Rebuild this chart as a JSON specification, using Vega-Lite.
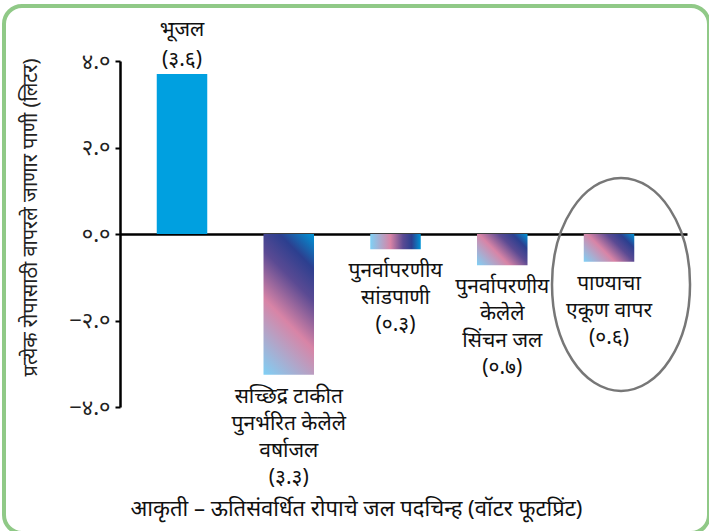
{
  "$schema": "https://vega.github.io/schema/vega-lite/v6.json",
  "width": 705,
  "height": 527,
  "autosize": {"type": "none"},
  "padding": {"left": 4, "top": 6, "right": 0, "bottom": 0},
  "background": "white",
  "config": {
    "font": "Noto Sans, Noto Sans Devanagari, Lohit Devanagari, sans-serif",
    "view": {"stroke": "#90c987", "strokeWidth": 4, "cornerRadius": 18}
  },
  "title": {
    "text": "आकृती – ऊतिसंवर्धित रोपाचे जल पदचिन्ह (वॉटर फूटप्रिंट)",
    "orient": "bottom",
    "anchor": "middle",
    "baseline": "middle",
    "offset": -24,
    "fontSize": 22,
    "fontWeight": "normal",
    "color": "#111"
  },
  "data": {
    "values": [
      {"source": "भूजल", "value": 3.7, "label": "भूजल\n(३.६)"},
      {"source": "सच्छिद्र टाकीत पुनर्भरित केलेले वर्षाजल", "value": -3.25, "label": "सच्छिद्र टाकीत\nपुनर्भरित केलेले\nवर्षाजल\n(३.३)"},
      {"source": "पुनर्वापरणीय सांडपाणी", "value": -0.35, "label": "पुनर्वापरणीय\nसांडपाणी\n(०.३)"},
      {"source": "पुनर्वापरणीय केलेले सिंचन जल", "value": -0.72, "label": "पुनर्वापरणीय\nकेलेले\nसिंचन जल\n(०.७)"},
      {"source": "पाण्याचा एकूण वापर", "value": -0.64, "label": "पाण्याचा\nएकूण वापर\n(०.६)"}
    ]
  },
  "encoding": {
    "x": {
      "field": "source",
      "type": "nominal",
      "sort": null,
      "scale": {"paddingInner": 0.396, "paddingOuter": 1, "align": 0.6827, "round": false},
      "axis": {
        "orient": "bottom",
        "offset": -299,
        "title": null,
        "labels": false,
        "ticks": false,
        "domainColor": "#000",
        "domainWidth": 2.5,
        "domainDash": [0, 116, 567, 3000]
      }
    },
    "y": {
      "field": "value",
      "type": "quantitative",
      "scale": {"domain": [-6.911, 5.273], "nice": false, "zero": false},
      "axis": {
        "orient": "left",
        "offset": -116,
        "values": [-4, -2, 0, 2, 4],
        "format": ".1f",
        "labelExpr": "replace(replace(replace(replace(datum.label,'0','०'),'0','०'),'2','२'),'4','४')",
        "grid": false,
        "domainColor": "#000",
        "domainWidth": 2.5,
        "domainDash": [0, 126, 346, 3000],
        "tickColor": "#000",
        "tickWidth": 2,
        "tickSize": 5,
        "labelFontSize": 22,
        "labelColor": "#222",
        "labelPadding": 5,
        "title": "प्रत्येक रोपासाठी वापरले जाणार पाणी (लिटर)",
        "titleFontSize": 20,
        "titleFontWeight": "normal",
        "titleColor": "#222",
        "titleAngle": -90,
        "titleX": -90,
        "titleY": 211,
        "titleAlign": "center",
        "titleBaseline": "middle"
      }
    }
  },
  "layer": [
    {
      "mark": {"type": "bar", "width": 50.5},
      "encoding": {
        "fill": {
          "condition": [
            {"test": "datum.source === 'भूजल'", "value": "#00a0e0"},
            {"test": "datum.source === 'पुनर्वापरणीय सांडपाणी'", "value": {"gradient": "linear", "x1": 0, "y1": 0.5, "x2": 1, "y2": 0.5, "stops": [{"offset": 0, "color": "#7fd0f5"}, {"offset": 0.4, "color": "#d884a6"}, {"offset": 0.65, "color": "#5a4a93"}, {"offset": 0.82, "color": "#2c3f8f"}, {"offset": 1, "color": "#0093d6"}]}},
            {"test": "datum.source === 'पुनर्वापरणीय केलेले सिंचन जल'", "value": {"gradient": "linear", "x1": 0, "y1": 1, "x2": 1.17, "y2": 0.29, "stops": [{"offset": 0, "color": "#7fd0f5"}, {"offset": 0.4, "color": "#d884a6"}, {"offset": 0.65, "color": "#5a4a93"}, {"offset": 0.82, "color": "#2c3f8f"}, {"offset": 1, "color": "#0093d6"}]}},
            {"test": "datum.source === 'पाण्याचा एकूण वापर'", "value": {"gradient": "linear", "x1": 0, "y1": 1, "x2": 1.19, "y2": 0.35, "stops": [{"offset": 0, "color": "#7fd0f5"}, {"offset": 0.4, "color": "#d884a6"}, {"offset": 0.65, "color": "#5a4a93"}, {"offset": 0.82, "color": "#2c3f8f"}, {"offset": 1, "color": "#0093d6"}]}}
          ],
          "value": {"gradient": "linear", "x1": 0, "y1": 1, "x2": 0.44, "y2": -0.2, "stops": [{"offset": 0, "color": "#7fd0f5"}, {"offset": 0.4, "color": "#d884a6"}, {"offset": 0.65, "color": "#5a4a93"}, {"offset": 0.82, "color": "#2c3f8f"}, {"offset": 1, "color": "#0093d6"}]}
        }
      }
    },
    {
      "transform": [{"filter": "datum.value > 0"}],
      "mark": {"type": "text", "baseline": "bottom", "dy": -34, "fontSize": 21, "lineHeight": 30, "lineBreak": "\n", "color": "#111"},
      "encoding": {"text": {"field": "label"}}
    },
    {
      "transform": [{"filter": "datum.value < 0"}],
      "mark": {"type": "text", "baseline": "top", "dy": 11, "fontSize": 21, "lineHeight": 27, "lineBreak": "\n", "color": "#111"},
      "encoding": {"text": {"field": "label"}}
    },
    {
      "transform": [{"filter": "datum.source === 'पाण्याचा एकूण वापर'"}],
      "mark": {
        "type": "point",
        "shape": "M -0.648 0 A 0.648 1 0 1 1 0.648 0 A 0.648 1 0 1 1 -0.648 0 Z",
        "size": 45369,
        "filled": false,
        "stroke": "#777",
        "strokeWidth": 2.5,
        "opacity": 1,
        "xOffset": 12
      },
      "encoding": {"y": {"datum": -1.164}}
    }
  ]
}
